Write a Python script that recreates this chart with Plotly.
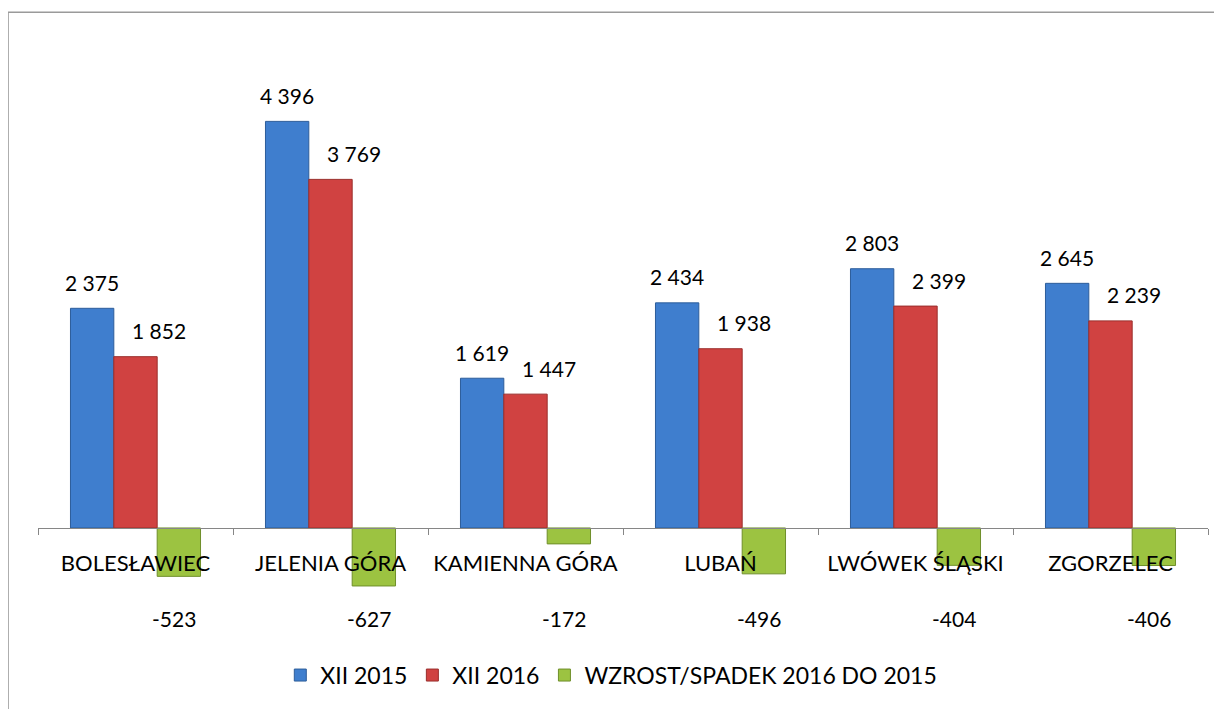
import plotly.graph_objects as go

categories = ["BOLESŁAWIEC", "JELENIA GÓRA", "KAMIENNA GÓRA", "LUBAŃ", "LWÓWEK ŚLĄSKI", "ZGORZELEC"]
xii_2015 = [2375, 4396, 1619, 2434, 2803, 2645]
xii_2016 = [1852, 3769, 1447, 1938, 2399, 2239]
change = [-523, -627, -172, -496, -404, -406]
series_names = ["XII 2015", "XII 2016", "WZROST/SPADEK 2016 DO 2015"]

FONT = "Lato"
colors = ["#3F7ECE", "#D04241", "#9CC341"]
edges = ["#2D5D9A", "#9A2E2C", "#6F8F2A"]


def fmt(v):
    return f"{v:,}".replace(",", " ")


fig = go.Figure()
for name, vals, c, e in zip(series_names, [xii_2015, xii_2016, change], colors, edges):
    fig.add_trace(go.Bar(
        x=categories, y=vals, name=name,
        marker=dict(color=c, line=dict(color=e, width=1)),
        hoverinfo="x+y",
    ))

annotations = []
for cat, v in zip(categories, xii_2015):
    annotations.append(dict(x=cat, y=v, text=fmt(v), showarrow=False, xshift=-44, yshift=26,
                            yanchor="middle", font=dict(size=21, color="black", family=FONT)))
for cat, v in zip(categories, xii_2016):
    annotations.append(dict(x=cat, y=v, text=fmt(v), showarrow=False, xshift=23, yshift=26,
                            yanchor="middle", font=dict(size=21, color="black", family=FONT)))
for cat, v in zip(categories, change):
    annotations.append(dict(x=cat, y=-984, text=fmt(v), showarrow=False, xshift=38,
                            yanchor="middle", font=dict(size=21, color="black", family=FONT)))

fig.update_layout(
    width=1214, height=701,
    margin=dict(l=30, r=14, t=32, b=89),
    paper_bgcolor="white", plot_bgcolor="white",
    barmode="group", bargap=0.333, bargroupgap=0,
    font=dict(family=FONT, size=20, color="black"),
    showlegend=True,
    legend=dict(orientation="h", x=0.49, xanchor="center", y=-0.095, yanchor="middle",
                font=dict(size=23, family=FONT), itemwidth=30, traceorder="normal"),
    xaxis=dict(type="category", showline=True, linecolor="#868686", linewidth=1,
               anchor="free", position=0.1586, automargin=False, tickangle=0,
               ticks="outside", tickson="boundaries", ticklen=6, tickcolor="#868686",
               showgrid=False, zeroline=False, ticklabelstandoff=16,
               tickfont=dict(size=22, family=FONT, color="black")),
    yaxis=dict(range=[-995, 5276], visible=False, showgrid=False, zeroline=False),
    annotations=annotations,
    shapes=[dict(type="rect", xref="paper", yref="paper", x0=-0.0256, x1=1.05, y0=-0.2, y1=1.048,
                 line=dict(color="#9A9A9A", width=1.5), fillcolor="rgba(0,0,0,0)", layer="below")],
)

fig.write_html("out.html")
